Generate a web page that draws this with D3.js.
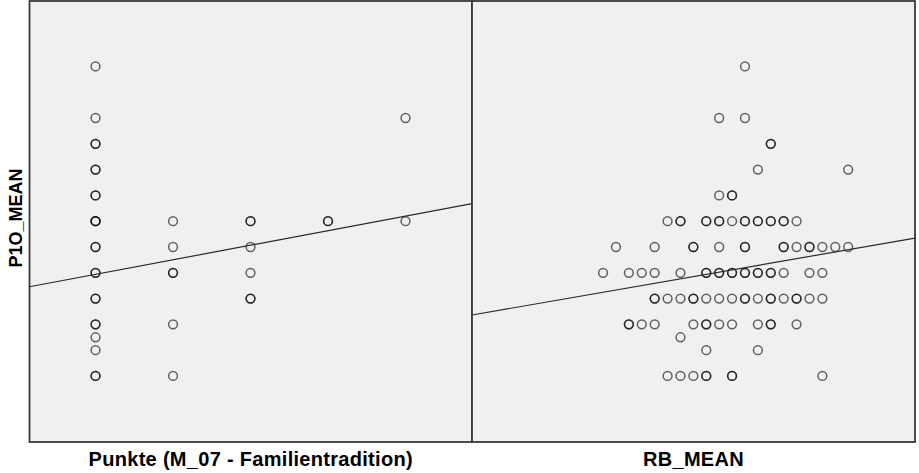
<!DOCTYPE html>
<html>
<head>
<meta charset="utf-8">
<script src="https://cdn.jsdelivr.net/npm/d3@7"></script>
<style>
  body { margin: 0; background: #fff; }
  svg { display: block; }
  text { font-family: "Liberation Sans", Arial, sans-serif; font-weight: bold; fill: #000; }
</style>
</head>
<body>
<svg id="chart" width="919" height="473"></svg>
<script>
// left panel: Punkte (M_07) vs P1O_MEAN, repeated pairs = overlapping cases
let punkteP1O = [
  [1, 5.0], [1, 4.5], [1, 4.25], [1, 4.25], [1, 4.0], [1, 4.0], [1, 3.75], [1, 3.75],
  [1, 3.5], [1, 3.5], [1, 3.5], [1, 3.25], [1, 3.25], [1, 3.0], [1, 3.0],
  [1, 2.75], [1, 2.75], [1, 2.5], [1, 2.5], [1, 2.375], [1, 2.25], [1, 2.0], [1, 2.0],
  [2, 3.5], [2, 3.25], [2, 3.0], [2, 3.0], [2, 2.5], [2, 2.0],
  [3, 3.5], [3, 3.5], [3, 3.25], [3, 3.0], [3, 2.75], [3, 2.75],
  [4, 3.5], [4, 3.5],
  [5, 4.5], [5, 3.5]
];

// right panel: RB_MEAN vs P1O_MEAN
let rbP1O = [
  [3.0, 5.0],
  [2.8, 4.5], [3.0, 4.5],
  [3.2, 4.25], [3.2, 4.25],
  [3.1, 4.0], [3.8, 4.0],
  [2.8, 3.75], [2.9, 3.75], [2.9, 3.75],
  [2.4, 3.5], [2.5, 3.5], [2.5, 3.5], [2.7, 3.5], [2.7, 3.5], [2.8, 3.5], [2.8, 3.5],
  [2.9, 3.5], [3.0, 3.5], [3.0, 3.5], [3.1, 3.5], [3.1, 3.5], [3.2, 3.5], [3.2, 3.5],
  [3.3, 3.5], [3.3, 3.5], [3.4, 3.5],
  [2.0, 3.25], [2.3, 3.25], [2.6, 3.25], [2.6, 3.25], [2.8, 3.25], [3.0, 3.25], [3.0, 3.25],
  [3.3, 3.25], [3.3, 3.25], [3.4, 3.25], [3.5, 3.25], [3.5, 3.25], [3.6, 3.25], [3.7, 3.25], [3.8, 3.25],
  [1.9, 3.0], [2.1, 3.0], [2.2, 3.0], [2.3, 3.0], [2.5, 3.0], [2.7, 3.0], [2.7, 3.0],
  [2.8, 3.0], [2.8, 3.0], [2.9, 3.0], [2.9, 3.0], [3.0, 3.0], [3.0, 3.0], [3.1, 3.0], [3.1, 3.0],
  [3.2, 3.0], [3.2, 3.0], [3.3, 3.0], [3.5, 3.0], [3.6, 3.0],
  [2.3, 2.75], [2.3, 2.75], [2.4, 2.75], [2.5, 2.75], [2.6, 2.75], [2.6, 2.75], [2.7, 2.75],
  [2.8, 2.75], [2.9, 2.75], [3.0, 2.75], [3.0, 2.75], [3.1, 2.75], [3.2, 2.75], [3.2, 2.75],
  [3.3, 2.75], [3.4, 2.75], [3.4, 2.75], [3.5, 2.75], [3.6, 2.75],
  [2.1, 2.5], [2.1, 2.5], [2.2, 2.5], [2.3, 2.5], [2.6, 2.5], [2.7, 2.5], [2.7, 2.5],
  [2.8, 2.5], [2.9, 2.5], [3.1, 2.5], [3.2, 2.5], [3.2, 2.5], [3.4, 2.5],
  [2.5, 2.375],
  [2.7, 2.25], [3.1, 2.25],
  [2.4, 2.0], [2.5, 2.0], [2.6, 2.0], [2.7, 2.0], [2.7, 2.0], [2.9, 2.0], [2.9, 2.0], [3.6, 2.0]
];

// fit lines (intercept, slope)
let fitLeft = [2.844, 0.141];
let fitRight = [2.399, 0.217];

let xLabels = ['Punkte (M_07 - Familientradition)', 'RB_MEAN'];
let yLabel = 'P1O_MEAN';

let svg = d3.select('#chart');

let plotTop = 1, plotBottom = 442,
    splitX = 472;

let y = d3.scaleLinear().domain([1.36, 5.634]).range([plotBottom, plotTop]);

let panels = [
  { points: punkteP1O, fit: fitLeft, label: xLabels[0],
    x: d3.scaleLinear().domain([0.148, 5.858]).range([29.5, splitX]) },
  { points: rbP1O, fit: fitRight, label: xLabels[1],
    x: d3.scaleLinear().domain([0.884, 4.318]).range([splitX, 915]) }
];

panels.forEach(function (p) {
  let r = p.x.range();
  let g = svg.append('g');

  g.append('rect')
    .attr('x', r[0]).attr('y', plotTop)
    .attr('width', r[1] - r[0]).attr('height', plotBottom - plotTop)
    .attr('fill', '#f0f0f0');

  g.selectAll('circle')
    .data(p.points)
    .enter().append('circle')
    .attr('cx', d => p.x(d[0]))
    .attr('cy', d => y(d[1]))
    .attr('r', 4.4)
    .attr('fill', 'none')
    .attr('stroke', '#000')
    .attr('stroke-opacity', 0.6)
    .attr('stroke-width', 1.5);

  let d0 = p.x.domain();
  g.append('line')
    .attr('x1', p.x(d0[0])).attr('y1', y(p.fit[0] + p.fit[1] * d0[0]))
    .attr('x2', p.x(d0[1])).attr('y2', y(p.fit[0] + p.fit[1] * d0[1]))
    .attr('stroke', '#2a2a2a')
    .attr('stroke-width', 1.2);

  g.append('rect')
    .attr('x', r[0]).attr('y', plotTop)
    .attr('width', r[1] - r[0]).attr('height', plotBottom - plotTop)
    .attr('fill', 'none')
    .attr('stroke', '#3a3a3a')
    .attr('stroke-width', 1.8);

  svg.append('text')
    .attr('x', (r[0] + r[1]) / 2)
    .attr('y', 466)
    .attr('text-anchor', 'middle')
    .style('font-size', '20px')
    .style('letter-spacing', '0.3px')
    .text(p.label);
});

svg.append('text')
  .attr('transform', 'translate(22,' + 218 + ') rotate(-90)')
  .attr('text-anchor', 'middle')
  .style('font-size', '18px')
  .text(yLabel);
</script>
</body>
</html>
